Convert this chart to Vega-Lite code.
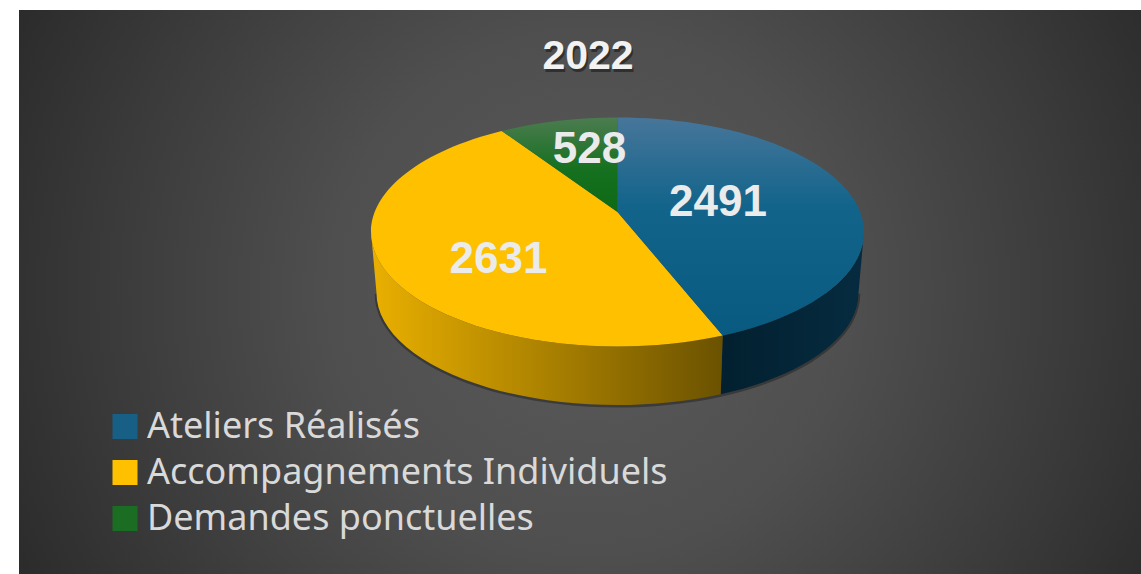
{
"$schema":"https://vega.github.io/schema/vega-lite/v6.json",
"width":1122,"height":564,
"autosize":{"type":"none"},
"padding":{"left":19,"top":10,"right":0,"bottom":0},
"background":"#ffffff",
"view":{"stroke":null,"fill":{"gradient":"radial","x1":0.51,"y1":0.5,"r1":0,"x2":0.51,"y2":0.5,"r2":0.58,"stops":[{"offset":0,"color":"#5a5a5a"},{"offset":0.4,"color":"#4f4f4f"},{"offset":0.75,"color":"#3a3a3a"},{"offset":1,"color":"#2a2a2a"}]}},
"datasets":{"pie":[{"category":"Ateliers Réalisés","value":2491},{"category":"Accompagnements Individuels","value":2631},{"category":"Demandes ponctuelles","value":528}]},
"data":{"name":"pie"},
"encoding":{"x":{"datum":0,"scale":{"domain":[-598.5,523.5]},"axis":null},"y":{"datum":0,"scale":{"domain":[-342,222]},"axis":null}},
"layer":[
{"transform":[{"filter":"datum.category==='Ateliers Réalisés'"}],
 "mark":{"type":"point","filled":true,"opacity":0.3,"fill":"#000000","strokeWidth":0,"size":243049,"shape":"M-0.985,0.25 A0.985,0.462 0 0 0 0.985,0.25 Z"}},
{"transform":[{"filter":"datum.category==='Ateliers Réalisés'"}],
 "mark":{"type":"point","filled":true,"opacity":1,"strokeWidth":0,"size":243049,"shape":"M1,0 A1,0.4645 0 0 1 0.4268,0.4201 L0.4187,0.6581 A0.9777,0.4544 0 0 0 0.9777,0.2475 Z",
  "fill":{"gradient":"linear","x1":0,"y1":0,"x2":1,"y2":0,"stops":[{"offset":0,"color":"#02202f"},{"offset":1,"color":"#062b40"}]}}},
{"transform":[{"filter":"datum.category==='Accompagnements Individuels'"}],
 "mark":{"type":"point","filled":true,"opacity":1,"strokeWidth":0,"size":243049,"shape":"M0.4268,0.4201 A1,0.4645 0 0 1 -1,0 L-0.9777,0.2475 A0.9777,0.4544 0 0 0 0.4187,0.6581 Z",
  "fill":{"gradient":"linear","x1":0,"y1":0,"x2":1,"y2":0,"stops":[{"offset":0,"color":"#eab000"},{"offset":1,"color":"#6b5200"}]}}},
{"transform":[{"filter":"datum.category==='Accompagnements Individuels'"}],
 "mark":{"type":"point","filled":true,"opacity":1,"strokeWidth":0,"size":243049,"shape":"M0,-0.0811 L0.4268,0.4201 A1,0.4645 0 0 1 -1,0 A1,0.4645 0 0 1 -0.4698,-0.4101 Z"},
 "encoding":{
  "color":{"field":"category","type":"nominal",
   "legend":{"orient":"none","legendX":88,"legendY":397,"title":null,"symbolType":"square","symbolSize":625,"symbolStrokeWidth":0,"labelFont":"Noto Sans","labelFontSize":36,"labelColor":"#d9d9d9","labelLimit":700,"labelOffset":4,"rowPadding":7,"symbolOpacity":1,"clipHeight":39},
   "scale":{"domain":["Ateliers Réalisés","Accompagnements Individuels","Demandes ponctuelles"],"range":["#185f85","#ffc000","#1a6d22"]}}}},
{"transform":[{"filter":"datum.category==='Ateliers Réalisés'"}],
 "mark":{"type":"point","filled":true,"opacity":1,"strokeWidth":0,"size":243049,"shape":"M0,-0.0811 L0,-0.4645 A1,0.4645 0 0 1 1,0 A1,0.4645 0 0 1 0.4268,0.4201 Z",
  "fill":{"gradient":"linear","x1":0,"y1":0,"x2":0,"y2":1,"stops":[{"offset":0,"color":"#47769a"},{"offset":0.4,"color":"#13648b"},{"offset":1,"color":"#085a80"}]}}},
{"transform":[{"filter":"datum.category==='Demandes ponctuelles'"}],
 "mark":{"type":"point","filled":true,"opacity":1,"strokeWidth":0,"size":243049,"shape":"M0,-0.0811 L-0.4698,-0.4101 A1,0.4645 0 0 1 0,-0.4645 Z",
  "fill":{"gradient":"linear","x1":0,"y1":0,"x2":0,"y2":1,"stops":[{"offset":0,"color":"#4c7c50"},{"offset":0.55,"color":"#15701f"},{"offset":1,"color":"#0f6a17"}]}}},
{"transform":[{"filter":"datum.category==='Ateliers Réalisés'"}],
 "mark":{"type":"text","font":"Liberation Sans","fontWeight":"bold","fontSize":44,"fill":"#ebebeb","baseline":"middle","align":"center"},
 "encoding":{"text":{"field":"value","type":"quantitative","format":"d"},"x":{"datum":100.5},"y":{"datum":29}}},
{"transform":[{"filter":"datum.category==='Accompagnements Individuels'"}],
 "mark":{"type":"text","font":"Liberation Sans","fontWeight":"bold","fontSize":44,"fill":"#ebebeb","baseline":"middle","align":"center"},
 "encoding":{"text":{"field":"value","type":"quantitative","format":"d"},"x":{"datum":-119},"y":{"datum":-28}}},
{"transform":[{"filter":"datum.category==='Demandes ponctuelles'"}],
 "mark":{"type":"text","font":"Liberation Sans","fontWeight":"bold","fontSize":44,"fill":"#ebebeb","baseline":"middle","align":"center"},
 "encoding":{"text":{"field":"value","type":"quantitative","format":"d"},"x":{"datum":-28},"y":{"datum":82}}},
{"data":{"values":[{"titre":"2022"}]},
 "mark":{"type":"text","font":"Liberation Sans","fontWeight":"bold","fontSize":41,"fill":"#000000","opacity":0.4,"baseline":"middle","align":"center","dx":1.5,"dy":2.5},
 "encoding":{"text":{"field":"titre"},"x":{"datum":-29.5},"y":{"datum":175}}},
{"data":{"values":[{"titre":"2022"}]},
 "mark":{"type":"text","font":"Liberation Sans","fontWeight":"bold","fontSize":41,"fill":"#f2f2f2","baseline":"middle","align":"center"},
 "encoding":{"text":{"field":"titre"},"x":{"datum":-29.5},"y":{"datum":175}}}
]
}
